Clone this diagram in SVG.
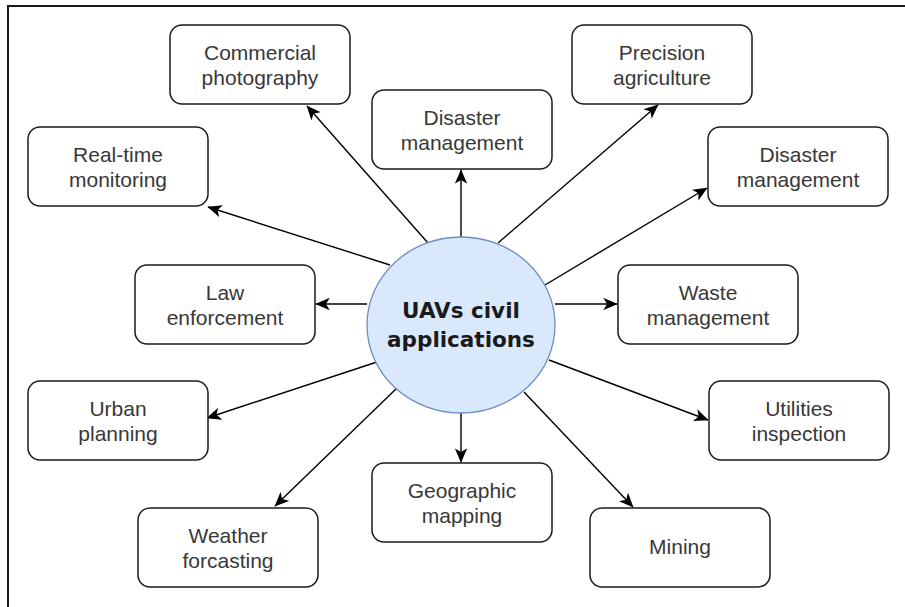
<svg xmlns="http://www.w3.org/2000/svg" width="905" height="607" viewBox="0 0 905 607">
<defs>
<style>
.box rect{fill:#fff;stroke:#1a1a1a;stroke-width:1.5}
.box text{font-family:"Liberation Sans",Arial,sans-serif;font-size:21px;fill:#383838;text-anchor:middle}
.edge{stroke:#000;stroke-width:1.4;fill:none;marker-end:url(#arr)}
.ctext{font-family:"DejaVu Sans",sans-serif;font-weight:bold;font-size:21.5px;fill:#1a1a1a;text-anchor:middle}
</style>
<marker id="arr" markerUnits="userSpaceOnUse" markerWidth="15" markerHeight="13" refX="11" refY="5" orient="auto" viewBox="0 0 12 10">
<path d="M0,0 L11.5,5 L0,10 L3,5 Z" fill="#000"/>
</marker>
</defs>
<rect width="905" height="607" fill="#fff"/>
<path d="M8,607 L8,6 L905,6" fill="none" stroke="#1a1a1a" stroke-width="2"/>

<g id="connectors">
<line class="edge" x1="428" y1="243" x2="307" y2="106"/>
<line class="edge" x1="461" y1="237" x2="461" y2="170"/>
<line class="edge" x1="498" y1="243" x2="658" y2="105"/>
<line class="edge" x1="390" y1="265" x2="208" y2="207"/>
<line class="edge" x1="545" y1="285" x2="707" y2="188"/>
<line class="edge" x1="367" y1="304" x2="316" y2="304"/>
<line class="edge" x1="555" y1="304" x2="617" y2="304"/>
<line class="edge" x1="377" y1="362" x2="207" y2="418"/>
<line class="edge" x1="549" y1="360" x2="708" y2="420"/>
<line class="edge" x1="461" y1="413" x2="461" y2="462"/>
<line class="edge" x1="397" y1="388" x2="275" y2="506"/>
<line class="edge" x1="524" y1="392" x2="633" y2="507"/>
</g>

<g id="center">
<ellipse cx="461" cy="325" rx="94" ry="88" fill="#dae8fc" stroke="#6c8ebf" stroke-width="1.3"/>
<text class="ctext" x="461" y="318">UAVs civil</text>
<text class="ctext" x="461" y="347">applications</text>
</g>

<g id="commercial" class="box"><rect x="170" y="25" width="180" height="79" rx="12"/><text x="260" y="60">Commercial</text><text x="260" y="85">photography</text></g>
<g id="disaster-top" class="box"><rect x="372" y="90" width="180" height="79" rx="12"/><text x="462" y="125">Disaster</text><text x="462" y="150">management</text></g>
<g id="precision" class="box"><rect x="572" y="25" width="180" height="79" rx="12"/><text x="662" y="60">Precision</text><text x="662" y="85">agriculture</text></g>
<g id="realtime" class="box"><rect x="28" y="127" width="180" height="79" rx="12"/><text x="118" y="162">Real-time</text><text x="118" y="187">monitoring</text></g>
<g id="disaster-right" class="box"><rect x="708" y="127" width="180" height="79" rx="12"/><text x="798" y="162">Disaster</text><text x="798" y="187">management</text></g>
<g id="law" class="box"><rect x="135" y="265" width="180" height="79" rx="12"/><text x="225" y="300">Law</text><text x="225" y="325">enforcement</text></g>
<g id="waste" class="box"><rect x="618" y="265" width="180" height="79" rx="12"/><text x="708" y="300">Waste</text><text x="708" y="325">management</text></g>
<g id="urban" class="box"><rect x="28" y="381" width="180" height="79" rx="12"/><text x="118" y="416">Urban</text><text x="118" y="441">planning</text></g>
<g id="utilities" class="box"><rect x="709" y="381" width="180" height="79" rx="12"/><text x="799" y="416">Utilities</text><text x="799" y="441">inspection</text></g>
<g id="geographic" class="box"><rect x="372" y="463" width="180" height="79" rx="12"/><text x="462" y="498">Geographic</text><text x="462" y="523">mapping</text></g>
<g id="weather" class="box"><rect x="138" y="508" width="180" height="79" rx="12"/><text x="228" y="543">Weather</text><text x="228" y="568">forcasting</text></g>
<g id="mining" class="box"><rect x="590" y="508" width="180" height="79" rx="12"/><text x="680" y="554">Mining</text></g>
</svg>
